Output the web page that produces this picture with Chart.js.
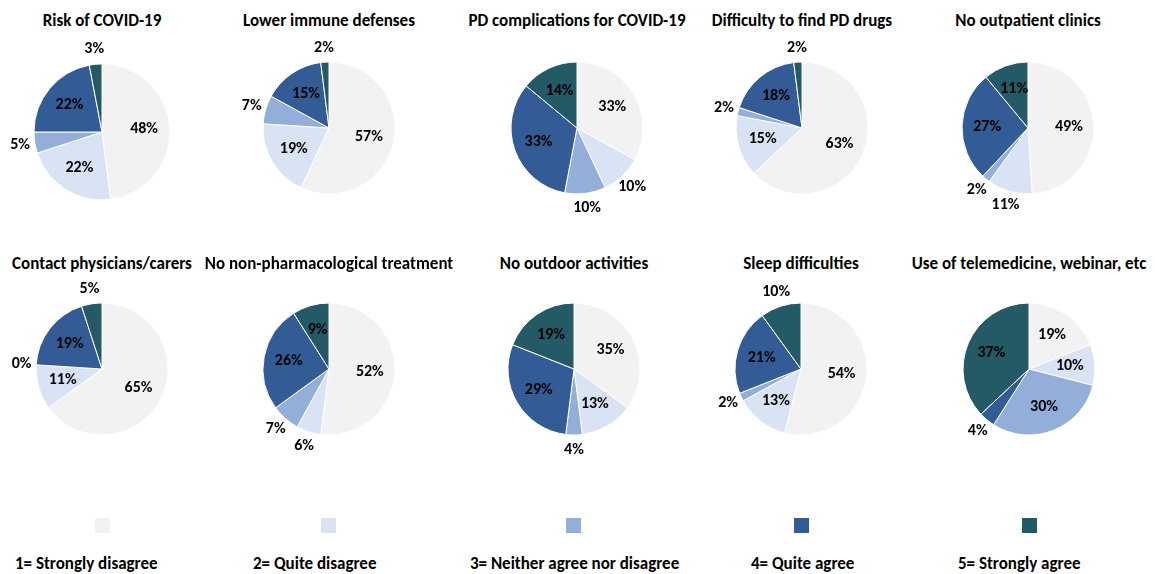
<!DOCTYPE html>
<html><head><meta charset="utf-8">
<script src="https://cdn.jsdelivr.net/npm/chart.js@4.4.0/dist/chart.umd.min.js"></script>
<style>
html,body{margin:0;padding:0;background:#fff;width:1155px;height:574px;overflow:hidden;font-family:Carlito,Lato,sans-serif;}
.t{position:absolute;font-weight:bold;font-size:17px;color:#000;white-space:nowrap;transform:translateX(-50%);line-height:17px}
canvas{position:absolute}
.sq{position:absolute;width:15px;height:15px}
.lg{position:absolute;font-weight:bold;font-size:17px;color:#000;white-space:nowrap;line-height:17px}
</style></head><body>
<script>
// ---- data ----
const categories = ["1= Strongly disagree", "2= Quite disagree", "3= Neither agree nor disagree", "4= Quite agree", "5= Strongly agree"];
const titles = ["Risk of COVID-19", "Lower immune defenses", "PD complications for COVID-19", "Difficulty to find PD drugs", "No outpatient clinics",
  "Contact physicians/carers", "No non-pharmacological treatment", "No outdoor activities", "Sleep difficulties", "Use of telemedicine, webinar, etc"];
const riskOfCovid = [48, 22, 5, 22, 3];
const lowerImmune = [57, 19, 7, 15, 2];
const pdComplications = [33, 10, 10, 33, 14];
const findPdDrugs = [63, 15, 2, 18, 2];
const noOutpatient = [49, 11, 2, 27, 11];
const contactPhysicians = [65, 11, 0, 19, 5];
const noNonPharma = [52, 6, 7, 26, 9];
const noOutdoor = [35, 13, 4, 29, 19];
const sleepDifficulties = [54, 13, 2, 21, 10];
const telemedicine = [19, 10, 30, 4, 37];
const seriesList = [riskOfCovid, lowerImmune, pdComplications, findPdDrugs, noOutpatient,
  contactPhysicians, noNonPharma, noOutdoor, sleepDifficulties, telemedicine];

// ---- style / layout ----
const colors = ["#f2f2f2", "#dae3f3", "#92aed9", "#335c96", "#235a66"];
const outsideLabels = [
  [0,0,1,0,1],[0,0,1,0,1],[0,1,1,0,0],[0,0,1,0,1],[0,1,1,0,0],
  [0,0,1,0,1],[0,1,1,0,0],[0,0,1,0,0],[0,0,1,0,1],[0,0,0,1,0]
];
const centers = [[102,132],[329,128],[577,128],[802,128],[1028,128],[102,369],[329,369],[574,369],[801,369],[1029,369]];
const radii = [68,66,66,66,66,66,66,66,66,66];
const titleTops = [12, 255];
const legendLeft = [15, 253, 470, 751, 958];
const FONT = "Carlito, Lato, sans-serif";

const labelPlugin = {
  id: 'sliceLabels',
  afterDatasetsDraw(chart) {
    const ctx = chart.ctx;
    const meta = chart.getDatasetMeta(0);
    const vals = chart.data.datasets[0].data;
    const out = chart.options.plugins.sliceLabels.outside;
    ctx.save();
    ctx.font = "bold 16px " + FONT;
    ctx.fillStyle = "#000";
    ctx.textAlign = "center";
    ctx.textBaseline = "middle";
    meta.data.forEach((arc, i) => {
      const p = arc.getProps(['x','y','startAngle','endAngle','outerRadius'], true);
      const a = (p.startAngle + p.endAngle) / 2;
      const f = out[i] ? 1.22 : 0.62;
      const r = p.outerRadius * f;
      ctx.fillText(vals[i] + "%", p.x + Math.cos(a) * r, p.y + Math.sin(a) * r);
    });
    ctx.restore();
  }
};

const S = 210;
seriesList.forEach((vals, k) => {
  const [cx, cy] = centers[k];
  const t = document.createElement('div');
  t.className = 't';
  t.textContent = titles[k];
  t.style.left = cx + 'px';
  t.style.top = titleTops[k < 5 ? 0 : 1] + 'px';
  document.body.appendChild(t);

  const c = document.createElement('canvas');
  c.width = S; c.height = S;
  c.style.left = (cx - S/2) + 'px';
  c.style.top = (cy - S/2) + 'px';
  document.body.appendChild(c);
  new Chart(c, {
    type: 'pie',
    data: {
      labels: categories,
      datasets: [{ data: vals, backgroundColor: colors, borderColor: '#ffffff', borderWidth: 1, radius: radii[k] }]
    },
    options: {
      responsive: false,
      animation: false,
      events: [],
      layout: { padding: 0 },
      plugins: { legend: { display: false }, tooltip: { enabled: false }, sliceLabels: { outside: outsideLabels[k] } }
    },
    plugins: [labelPlugin]
  });
});

// legend
const sqX = [102, 328, 573, 801, 1029];
categories.forEach((name, i) => {
  const s = document.createElement('div');
  s.className = 'sq';
  s.style.background = colors[i];
  s.style.left = (sqX[i] - 7) + 'px';
  s.style.top = '518px';
  document.body.appendChild(s);
  const l = document.createElement('div');
  l.className = 'lg';
  l.textContent = name;
  l.style.left = legendLeft[i] + 'px';
  l.style.top = '555px';
  document.body.appendChild(l);
});
</script>
</body></html>
